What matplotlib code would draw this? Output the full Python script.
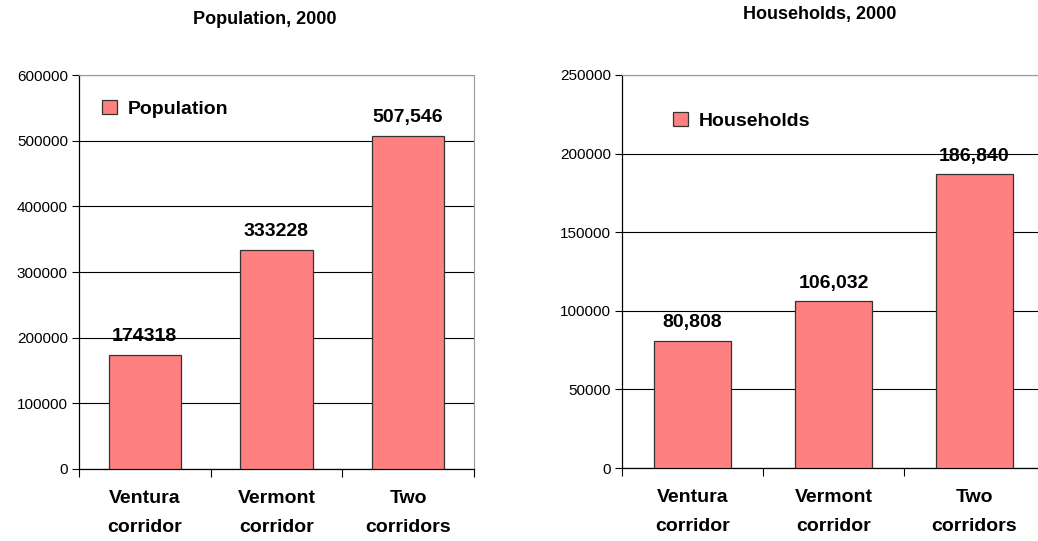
import numpy as np
import matplotlib.pyplot as plt

plt.rcParams['font.family'] = ['Liberation Sans', 'DejaVu Sans']

categories = ['Ventura\ncorridor', 'Vermont\ncorridor', 'Two\ncorridors']
population = [174318, 333228, 507546]
population_labels = ['174318', '333228', '507,546']
households = [80808, 106032, 186840]
household_labels = ['80,808', '106,032', '186,840']

W, H = 1038, 541
fig = plt.figure(figsize=(W / 100, H / 100), dpi=100)


def draw(ax, values, labels, ymax, step, title, legend_name, title_xy, legend_xy):
    x = np.arange(len(categories))
    bars = ax.bar(x, values, width=0.55, color='#FF8080', edgecolor='#333333',
                  linewidth=0.9, label=legend_name, zorder=3)
    for b, t in zip(bars, labels):
        ax.annotate(t, (b.get_x() + b.get_width() / 2, b.get_height()),
                    xytext=(0, 7), textcoords='offset points', ha='center',
                    va='bottom', fontsize=14, fontweight='bold', zorder=4)
    ax.set_xlim(-0.5, len(categories) - 0.5)
    ax.set_ylim(0, ymax)
    ax.set_yticks(np.arange(0, ymax + 1, step))
    ax.yaxis.grid(True, color='black', linewidth=0.8, zorder=0)
    ax.set_xticks(x)
    ax.set_xticklabels(categories, fontsize=14, fontweight='bold', linespacing=1.95)
    ax.set_xticks(np.arange(-0.5, len(categories)), minor=True)
    ax.tick_params(axis='x', which='major', length=0, pad=15)
    ax.tick_params(axis='x', which='minor', length=6, width=0.8, color='black')
    ax.tick_params(axis='y', length=5, width=0.8, labelsize=11, pad=3)
    for s in ['top', 'right']:
        ax.spines[s].set_color('#999999')
        ax.spines[s].set_linewidth(0.8)
    for s in ['left', 'bottom']:
        ax.spines[s].set_color('black')
        ax.spines[s].set_linewidth(0.9)
    ax.legend(loc='center left', bbox_to_anchor=(legend_xy[0] / W, 1 - legend_xy[1] / H),
              bbox_transform=fig.transFigure, frameon=False, borderaxespad=0,
              borderpad=0, prop={'size': 14, 'weight': 'bold'}, handlelength=0.75,
              handleheight=0.75, handletextpad=0.55)
    fig.text(title_xy[0] / W, 1 - title_xy[1] / H, title, ha='center', va='center',
             fontsize=13, fontweight='bold')


ax1 = fig.add_axes([79 / W, 1 - 469 / H, 395 / W, 394 / H])
draw(ax1, population, population_labels, 600000, 100000, 'Population, 2000',
     'Population', (265, 20), (102, 109))

ax2 = fig.add_axes([622 / W, 1 - 468 / H, 423 / W, 393 / H])
draw(ax2, households, household_labels, 250000, 50000, 'Households, 2000',
     'Households', (820, 14), (673, 121))

fig.savefig('out.png', dpi=100)
